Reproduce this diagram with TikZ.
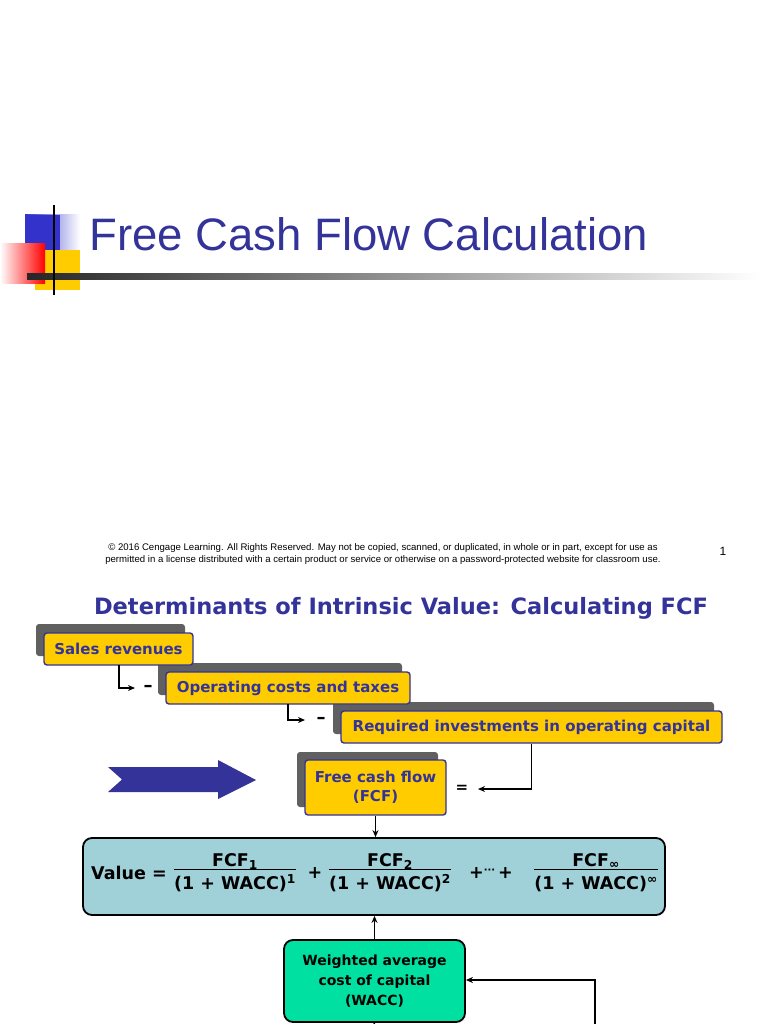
\documentclass[tikz,border=0pt]{standalone}
\usepackage{fontspec}
\setmainfont{DejaVu Sans}
\newfontfamily\titlefont{Liberation Sans}
\usetikzlibrary{arrows.meta}
\definecolor{navy}{RGB}{51,51,153}
\definecolor{gold}{RGB}{255,204,0}
\definecolor{teal2}{RGB}{160,208,216}
\definecolor{mint}{RGB}{0,224,160}
\definecolor{dblue}{RGB}{51,51,204}
\tikzset{
 ybox/.style={draw=navy,line width=1.4pt,fill=gold,rounded corners=3pt,inner sep=0pt,font=\bfseries\fontsize{15}{19}\selectfont,text=navy,align=center},
 sbox/.style={fill=gray!75!black,rounded corners=3pt},
 conn/.style={draw=black,line width=1.5pt,-{Stealth[length=7pt,width=6pt]}},
}
\newcommand{\fr}[2]{\begin{tabular}{@{}c@{}}#1\\[-3pt]\hline\rule{0pt}{20pt}#2\end{tabular}}
\begin{document}
\begin{tikzpicture}[x=1pt,y=-1pt]
\useasboundingbox (0,0) rectangle (768,1024);
% title decorations
\fill[left color=dblue,right color=white] (25,215) rectangle (80,265);
\fill[dblue] (25,215) rectangle (60,265);
\fill[gold] (35,250) rectangle (80,290);
\fill[right color=red,left color=white] (0,243) rectangle (45,283);
\shade[left color=black!85,right color=white] (27,273) rectangle (760,279);
\draw[line width=1.2pt] (54,205) -- (54,295);
\node[anchor=base west,text=navy,font=\titlefont\fontsize{45.5}{50}\selectfont,inner sep=0] (title) at (89,250) {Free Cash Flow Calculation};
\node[font=\titlefont\fontsize{9.6}{12}\selectfont,align=center] (copy) at (383,554) {© 2016 Cengage Learning. All Rights Reserved. May not be copied, scanned, or duplicated, in whole or in part, except for use as\\permitted in a license distributed with a certain product or service or otherwise on a password-protected website for classroom use.};
\node[font=\titlefont\fontsize{12}{12}\selectfont] (pg) at (723,551) {1};
\node[text=navy,font=\bfseries\fontsize{22.5}{26}\selectfont] (head) at (401,608) {Determinants of Intrinsic Value: Calculating FCF};
% shadows
\fill[sbox] (36,624) rectangle (185,656);
\fill[sbox] (158,663) rectangle (402,695);
\fill[sbox] (333,702) rectangle (714,734);
\fill[sbox] (297,752) rectangle (438,807);
% boxes
\node[ybox,minimum width=149,minimum height=32] (sales) at (118.5,649) {Sales revenues};
\node[ybox,minimum width=244,minimum height=32] (opc) at (288,688) {Operating costs and taxes};
\node[ybox,minimum width=381,minimum height=32] (req) at (531.5,727) {Required investments in operating capital};
\node[ybox,minimum width=141,minimum height=55] (fcf) at (375.5,787.5) {Free cash flow\\(FCF)};
% connectors
\coordinate (m1) at (148,688); \coordinate (m2) at (321,720); \coordinate (eq) at (462,789);
\node[font=\bfseries\fontsize{18}{18}\selectfont] at (m1) {–};
\node[font=\bfseries\fontsize{18}{18}\selectfont] at (m2) {–};
\node[font=\bfseries\fontsize{15}{15}\selectfont] at (eq) {=};
\draw[conn] (119,665) |- (135,688);
\draw[conn] (288,704) |- (305,720);
\draw[conn] (req.south) |- (478,789);
% big arrow
\fill[navy] (108,767) -- (218,767) -- (218,760) -- (256,780) -- (218,799) -- (218,792) -- (108,792) -- (122,779.5) -- cycle;
% value box
\node[draw=black,line width=1.8pt,fill=teal2,rounded corners=9pt,minimum width=582,minimum height=77,inner sep=0pt] (val) at (374,876.5) {};
\tikzset{ff/.style={font=\bfseries\fontsize{17.5}{20}\selectfont}}
\node[ff,anchor=west,inner sep=0] (vl) at (91,873) {Value =};
\node[ff] (f1) at (235,874) {\fr{FCF\textsubscript{1}}{(1 + WACC)\textsuperscript{1}}};
\node[ff] (p1) at (315,873) {+};
\node[ff] (f2) at (390,874) {\fr{FCF\textsubscript{2}}{(1 + WACC)\textsuperscript{2}}};
\node[ff] (p2) at (491,873) {+\raisebox{5pt}{\fontsize{10}{10}\selectfont ···}\,+};
\node[ff] (f3) at (596,874) {\fr{FCF\textsubscript{∞}}{(1 + WACC)\textsuperscript{∞}}};
\draw[conn] (fcf.south) -- (val.north -| fcf.south);
% wacc
\node[draw=black,line width=1.8pt,fill=mint,rounded corners=9pt,minimum width=181,minimum height=82,inner sep=0pt,align=center,font=\bfseries\fontsize{14}{20}\selectfont] (wacc) at (374.5,981) {Weighted average\\cost of capital\\(WACC)};
\draw[conn] (wacc.north) -- (val.south -| wacc.north);
\coordinate (rb) at (595,1024);
\draw[conn] (rb) |- (wacc.east |- 0,980);
\coordinate (bb) at (374,1024);
\draw[line width=1.5pt] (wacc.south) -- (bb);
\end{tikzpicture}
\end{document}
